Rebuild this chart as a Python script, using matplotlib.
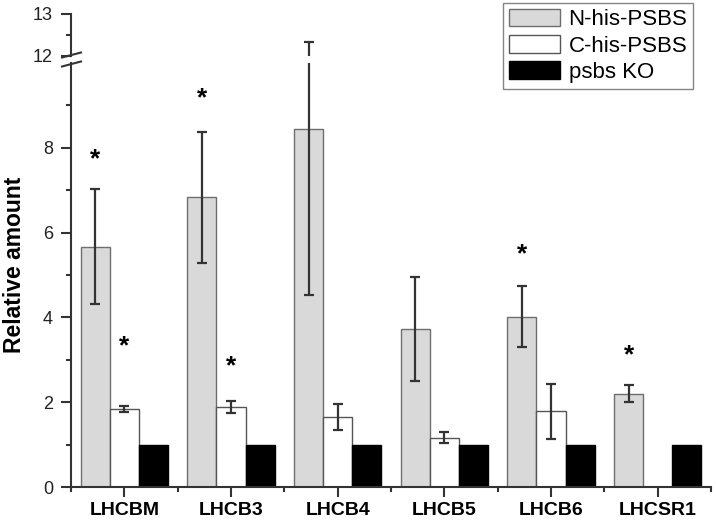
import numpy as np
import matplotlib
matplotlib.use("Agg")
import matplotlib.pyplot as plt
from matplotlib.lines import Line2D
from matplotlib.ticker import FixedLocator

plt.rcParams["font.family"] = ["Liberation Sans", "DejaVu Sans"]

categories = ["LHCBM", "LHCB3", "LHCB4", "LHCB5", "LHCB6", "LHCSR1"]
series_names = ["N-his-PSBS", "C-his-PSBS", "psbs KO"]

n_his = [5.67, 6.83, 8.44, 3.73, 4.02, 2.20]
n_his_err = [1.35, 1.54, 3.90, 1.23, 0.72, 0.20]
c_his = [1.84, 1.89, 1.65, 1.16, 1.79, 0.0]
c_his_err = [0.07, 0.15, 0.31, 0.13, 0.65, 0.0]
ko = [1.0, 1.0, 1.0, 1.0, 1.0, 1.0]

# significance stars: (category index, series index, y)
stars = [(0, 0, 7.72), (0, 1, 3.31), (1, 0, 9.16), (1, 1, 2.84), (4, 0, 5.48), (5, 0, 3.11)]

W, H = 716, 521
fig = plt.figure(figsize=(W / 100, H / 100), dpi=100)

def fx(px):
    return px / W

def fy(py):
    return 1 - py / H

left, right = fx(71), fx(711)
ax = fig.add_axes([left, fy(487), right - left, fy(63) - fy(487)])
ax_top = fig.add_axes([left, fy(56), right - left, fy(14) - fy(56)], sharex=ax)

x = np.arange(len(categories))
bw = 0.272
face = ["#d9d9d9", "white", "black"]
edge = ["#6e6e6e", "#555555", "black"]
vals = [n_his, c_his, ko]
errs = [n_his_err, c_his_err, None]
ink = "#333333"

handles = []
for a in (ax, ax_top):
    for i in range(3):
        xs = x + (i - 1) * bw
        v = np.array(vals[i])
        mask = v > 0
        b = a.bar(xs[mask], v[mask], bw, color=face[i], edgecolor=edge[i], linewidth=1.0, zorder=2)
        if a is ax:
            handles.append(b)
        if errs[i] is not None:
            e = np.array(errs[i])
            a.errorbar(xs[mask], v[mask], yerr=e[mask], fmt="none", ecolor=ink,
                       elinewidth=1.6, capsize=3.8, capthick=1.6, zorder=3)

for ci, si, yv in stars:
    ax.text(x[ci] + (si - 1) * bw, yv, "*", ha="center", va="center", fontsize=19,
            fontweight="bold", color="black")

ax.set_xlim(-0.5, 5.5)
ax.set_ylim(0, 10)
ax_top.set_ylim(12, 13)

for a in (ax, ax_top):
    a.spines["right"].set_visible(False)
    a.spines["top"].set_visible(False)
    for s in a.spines.values():
        s.set_linewidth(1.5)
        s.set_color(ink)
    a.tick_params(axis="y", which="major", length=7, width=1.5, color=ink, pad=6,
                  labelsize=13, labelcolor="#222222")
    a.tick_params(axis="y", which="minor", length=3.8, width=1.5, color=ink)

ax.yaxis.set_major_locator(FixedLocator([0, 2, 4, 6, 8]))
ax.yaxis.set_minor_locator(FixedLocator([1, 3, 5, 7, 9]))
ax_top.yaxis.set_major_locator(FixedLocator([12, 13]))
ax_top.yaxis.set_minor_locator(FixedLocator([12.5]))

ax_top.spines["bottom"].set_visible(False)
ax_top.tick_params(axis="x", which="both", bottom=False, labelbottom=False)

ax.set_xticks(x)
ax.set_xticklabels(categories, fontsize=14, fontweight="bold")
ax.xaxis.set_minor_locator(FixedLocator(np.arange(-0.5, 6, 1.0)))
ax.tick_params(axis="x", which="major", length=7.5, width=1.5, color=ink, pad=3)
ax.tick_params(axis="x", which="minor", length=3.8, width=1.5, color=ink)

fig.text(fx(15), fy(265), "Relative amount", rotation=90, ha="center", va="center",
         fontsize=16.5, fontweight="bold")

# axis break marks
for yb in (55, 64):
    fig.add_artist(Line2D([fx(62), fx(81)], [fy(yb + 2.5), fy(yb - 2.5)],
                          transform=fig.transFigure, color=ink, linewidth=1.5))

leg = fig.legend(handles, series_names, loc="upper right", bbox_to_anchor=(fx(693), fy(3)),
                 fontsize=16, frameon=True, fancybox=False, edgecolor="#666666",
                 handlelength=2.3, handleheight=0.85, handletextpad=0.4,
                 labelspacing=0.22, borderpad=0.25, borderaxespad=0)
leg.get_frame().set_linewidth(1.0)

fig.savefig("out.png", dpi=100)
